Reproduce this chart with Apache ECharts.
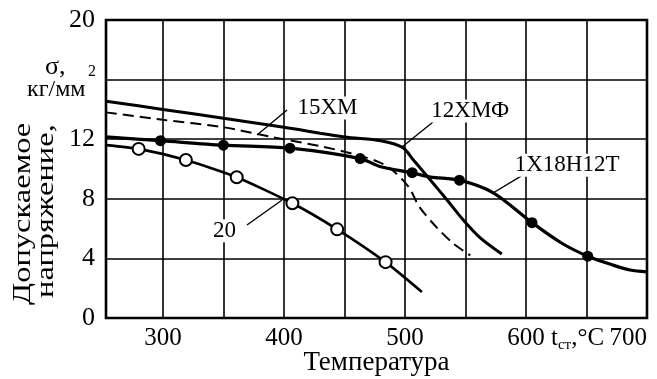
<!DOCTYPE html>
<html><head><meta charset="utf-8">
<script src="https://cdn.jsdelivr.net/npm/echarts@6/dist/echarts.min.js"></script>
<style>html,body{margin:0;padding:0;background:#fff}#c{width:657px;height:379px}</style>
</head><body><div id="c"></div>
<script>
// ---- data (temperature °C, allowable stress kg/mm²) ----
const xTicks = [300, 350, 400, 450, 500, 550, 600, 650, 700];
const xLabels = [300, 400, 500, 600, 700];
const yTicks = [0, 4, 8, 12, 16, 20];

const line12XMF = [[253,14.55],[300,14.0],[350,13.4],[400,12.8],[450,12.15],[480,11.9],[498,11.45],[507,10.6],[521,9.26],[535,7.9],[548,6.6],[562,5.4],[580,4.3]];
const line15XM = [[253,13.8],[300,13.3],[350,12.8],[390,12.15],[432,11.5],[460,10.95],[479,10.45],[490,9.9],[503,8.8],[512,7.45],[526,6.1],[540,5.0],[554,4.2]];
const line1X18 = [[253,12.15],[298,11.9],[350,11.6],[405,11.4],[463,10.7],[480,10.15],[506,9.75],[521,9.46],[545,9.25],[573,8.4],[605,6.4],[630,5.0],[651,4.15],[672,3.55],[686,3.22],[700,3.1]];
const pts1X18 = [[298,11.9],[350,11.6],[405,11.4],[463,10.7],[506,9.75],[545,9.25],[605,6.4],[651,4.15]];
const line20 = [[253,11.6],[280,11.35],[319,10.6],[361,9.45],[407,7.7],[444,5.95],[484,3.75],[514,1.75]];
const pts20 = [[280,11.35],[319,10.6],[361,9.45],[407,7.7],[444,5.95],[484,3.75]];

// annotations: name, text anchor, leader from -> to
const annNames = ['15ХМ', '12ХМФ', '1Х18Н12Т', '20'];
const annText = [[436,14.1],[554,13.9],[634,10.25],[351,5.85]];
const annLeader = [[[402.6,13.96],[377.8,12.28]],[[523.2,13.15],[497.6,11.48]],[[597.6,9.6],[572.8,8.39]],[[369.5,6.24],[398.5,7.92]]];

const FONT = 'Liberation Serif';
const chart = echarts.init(document.getElementById('c'));
const series = [
  {type:'line', data:line12XMF, symbol:'none', smooth:0.3, lineStyle:{color:'#000', width:3}, z:3},
  {type:'line', data:line15XM, symbol:'none', smooth:0.3, lineStyle:{color:'#000', width:2, type:[11,6]}, z:3},
  {type:'line', data:line1X18, symbol:'none', smooth:0.3, lineStyle:{color:'#000', width:3.2}, z:3},
  {type:'scatter', data:pts1X18, symbol:'circle', symbolSize:11, itemStyle:{color:'#000', opacity:1}, z:5},
  {type:'line', data:line20, symbol:'none', smooth:0.2, lineStyle:{color:'#000', width:2.6}, z:3},
  {type:'scatter', data:pts20, symbol:'circle', symbolSize:12, itemStyle:{color:'#fff', borderColor:'#000', borderWidth:2, opacity:1}, z:5},
  {type:'scatter', data:annNames.map((n,i)=>({name:n, value:annText[i]})), symbolSize:0, itemStyle:{opacity:1},
    label:{show:true, position:'inside', formatter:'{b}', color:'#000', fontFamily:FONT, fontSize:23, backgroundColor:'#fff', padding:[0,2]}, z:6}
];
annLeader.forEach(seg => series.push({type:'line', data:seg, symbol:'none', lineStyle:{color:'#000', width:1.4}, z:4}));

chart.setOption({
  animation:false,
  backgroundColor:'#fff',
  grid:{left:106, right:10, top:20, bottom:61, outerBoundsMode:'none', containLabel:false, show:true, borderColor:'#000', borderWidth:2.6, backgroundColor:'transparent'},
  xAxis:{type:'value', min:253, max:700,
    axisLine:{show:false}, axisTick:{show:false, customValues:xTicks},
    splitLine:{show:true, lineStyle:{color:'#000', width:1.6}},
    axisLabel:{customValues:xLabels, color:'#000', fontFamily:FONT, fontSize:25, margin:8, alignMaxLabel:'right'},
    name:'Температура', nameLocation:'middle', nameGap:31, nameMoveOverlap:false, nameTextStyle:{color:'#000', fontFamily:FONT, fontSize:27}},
  yAxis:{type:'value', min:0, max:20, interval:4,
    axisLine:{show:false}, axisTick:{show:false},
    splitLine:{show:true, lineStyle:{color:'#000', width:1.6}},
    axisLabel:{color:'#000', fontFamily:FONT, fontSize:26, margin:11, formatter:v=>v===16?'':String(v)}},
  graphic:[
    {type:'text', left:45, top:54, style:{text:'σ,', fill:'#000', font:'26px "Liberation Serif"'}},
    {type:'text', left:27, top:78, style:{text:'кг/мм', fill:'#000', font:'24px "Liberation Serif"'}},
    {type:'text', left:88, top:64, style:{text:'2', fill:'#000', font:'16px "Liberation Serif"'}},
    {type:'text', x:11, y:305, rotation:Math.PI/2, scaleX:1.3, style:{text:'Допускаемое', fill:'#000', font:'25px "Liberation Serif"', textVerticalAlign:'top'}},
    {type:'text', x:34, y:298, rotation:Math.PI/2, scaleX:1.3, style:{text:'напряжение,', fill:'#000', font:'25px "Liberation Serif"', textVerticalAlign:'top'}},
    {type:'text', left:551, top:326, style:{text:'{t|t}{s|ст}{t|,°C}', fill:'#000', rich:{t:{fontFamily:FONT, fontSize:25, fill:'#000'}, s:{fontFamily:FONT, fontSize:15, fill:'#000', padding:[13,0,0,0]}}}}
  ],
  series
});
</script></body></html>
